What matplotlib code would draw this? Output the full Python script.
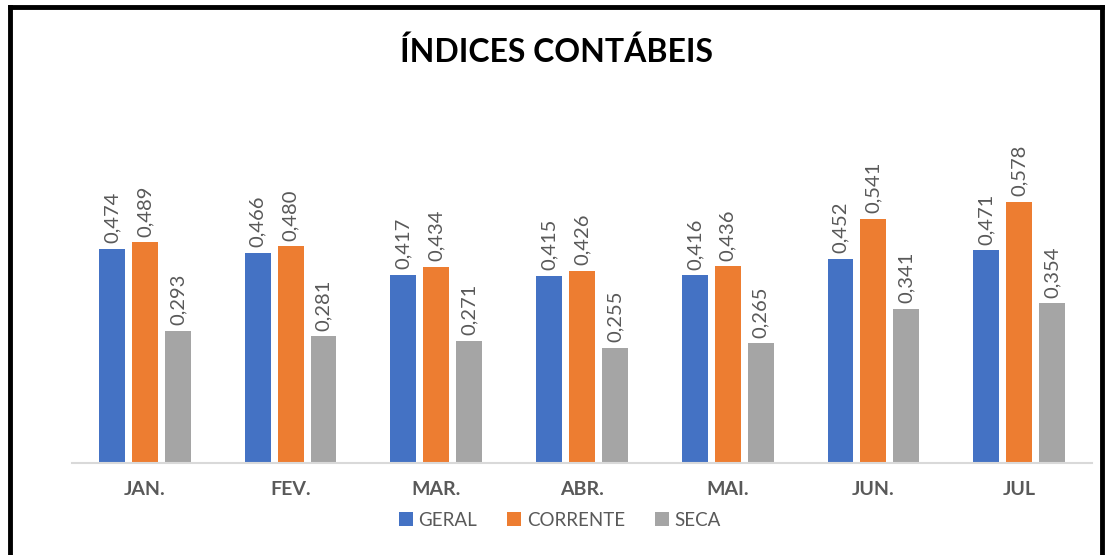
import numpy as np
import matplotlib.pyplot as plt
from matplotlib.lines import Line2D

meses = ['JAN.', 'FEV.', 'MAR.', 'ABR.', 'MAI.', 'JUN.', 'JUL']
geral = [0.474, 0.466, 0.417, 0.415, 0.416, 0.452, 0.471]
corrente = [0.489, 0.480, 0.434, 0.426, 0.436, 0.541, 0.578]
seca = [0.293, 0.281, 0.271, 0.255, 0.265, 0.341, 0.354]
series = ['GERAL', 'CORRENTE', 'SECA']

cores = ['#4472C4', '#ED7D31', '#A5A5A5']
texto = '#595959'
plt.rcParams['font.family'] = ['Lato', 'DejaVu Sans']

fig = plt.figure(figsize=(11.05, 5.55), dpi=100)
ax = fig.add_axes([72 / 1105, (555 - 463) / 555, 1020 / 1105, 353 / 555])

x = np.arange(len(meses))
largura = 0.178
passo = 0.226
for i, (nome, vals) in enumerate(zip(series, [geral, corrente, seca])):
    pos = x + (i - 1) * passo
    barras = ax.bar(pos, vals, largura, color=cores[i], label=nome)
    for b, v in zip(barras, vals):
        ax.annotate(('%.3f' % v).replace('.', ','),
                    (b.get_x() + b.get_width() / 2, v),
                    xytext=(0, 4), textcoords='offset points',
                    rotation=90, ha='center', va='bottom',
                    fontsize=14.5, color=texto)

ax.set_xlim(-0.5, len(meses) - 0.5)
ax.set_ylim(0, 353 / 451.5)
ax.set_yticks([])
for s in ['top', 'right', 'left']:
    ax.spines[s].set_visible(False)
ax.spines['bottom'].set_color('#D9D9D9')
ax.spines['bottom'].set_linewidth(1.5)
ax.set_xticks(x)
ax.set_xticklabels(meses, fontsize=14, fontweight='bold', color=texto)
ax.tick_params(axis='x', length=0, pad=13)

fig.text(556 / 1105, 1 - 52 / 555, 'ÍNDICES CONTÁBEIS', ha='center', va='center',
         fontsize=23, fontweight='bold', color='black')

leg = fig.legend(loc='center', bbox_to_anchor=(560 / 1105, 1 - 520 / 555), ncol=3,
                 frameon=False, fontsize=13.5, handlelength=0.75, handleheight=0.75,
                 handletextpad=0.3, columnspacing=1.6)
for t in leg.get_texts():
    t.set_color(texto)

# moldura preta
fig.add_artist(Line2D([10 / 1105, 10 / 1105], [0, 1 - 7 / 555], color='black', lw=3.5,
                      transform=fig.transFigure))
fig.add_artist(Line2D([10 / 1105, 1102 / 1105], [1 - 7 / 555, 1 - 7 / 555], color='black',
                      lw=3.5, transform=fig.transFigure))
fig.add_artist(Line2D([1102 / 1105, 1102 / 1105], [0, 1 - 7 / 555], color='black', lw=3.5,
                      transform=fig.transFigure))

fig.savefig('out.png', dpi=100)
